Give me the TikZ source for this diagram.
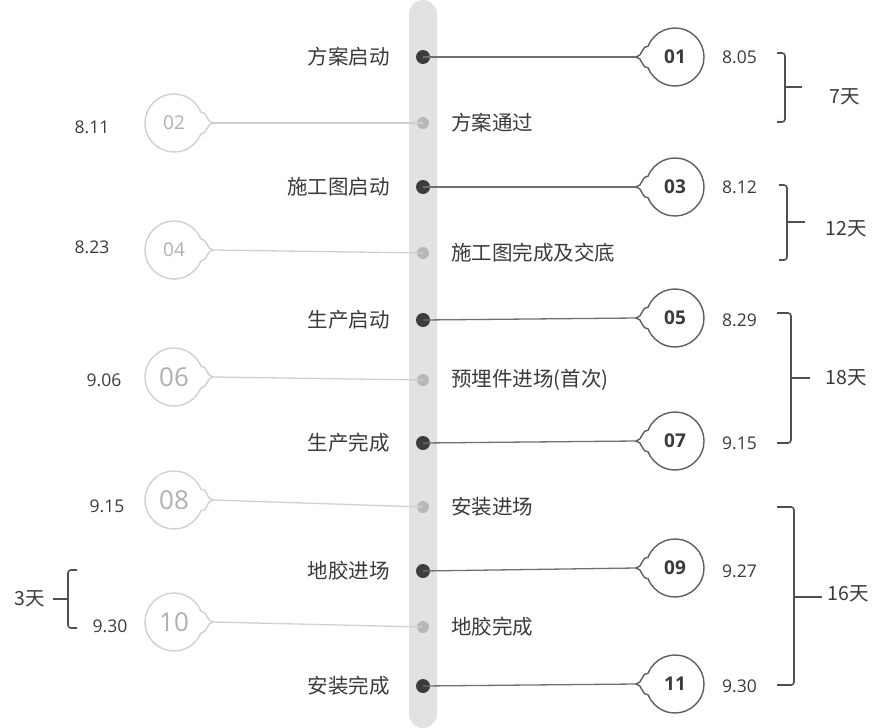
\documentclass[tikz,border=0pt]{standalone}
\usepackage{fontspec}
\setmainfont{Open Sans}
\newfontfamily\cjk{Noto Sans CJK SC}
\definecolor{barc}{HTML}{E2E2E2}
\definecolor{darkdot}{HTML}{3C3C3C}
\definecolor{lightdot}{HTML}{B8B8B8}
\definecolor{darkline}{HTML}{707070}
\definecolor{darkring}{HTML}{5E5E5E}
\definecolor{lightring}{HTML}{D0D0D0}
\definecolor{lightnum}{HTML}{B0B0B0}
\definecolor{txt}{HTML}{3A3A3A}
\definecolor{brk}{HTML}{505050}
\tikzset{
  darkpt/.style={circle,fill=darkdot,inner sep=0pt,minimum size=14pt},
  lightpt/.style={circle,fill=lightdot,inner sep=0pt,minimum size=12pt},
  ring/.style={circle,inner sep=0pt,minimum size=58pt},
  darknum/.style={font=\fontsize{19}{19}\selectfont\bfseries,text=txt},
  lightnumS/.style={font=\fontsize{19}{19}\selectfont,text=lightnum},
  lightnumL/.style={font=\fontsize{26}{26}\selectfont,text=lightnum},
  lbl/.style={font=\cjk\fontsize{20.5}{20.5}\selectfont,text=txt,inner sep=0pt},
  datetxt/.style={font=\fontsize{17.5}{17.5}\selectfont,text=txt,inner sep=0pt},
  daystxt/.style={font=\cjk\fontsize{19.5}{19.5}\selectfont,text=txt,inner sep=0pt},
  dline/.style={darkline,line width=1.3pt},
  lline/.style={lightring,line width=1.3pt},
  dbub/.style={darkring,line width=1.4pt},
  lbub/.style={lightring,line width=1.4pt},
  brace/.style={brk,line width=1.6pt,rounded corners=3pt}
}
\begin{document}
\begin{tikzpicture}[x=1pt,y=-1pt]
\useasboundingbox (0,0) rectangle (889,728);
\fill[barc,rounded corners=14pt] (409,0) rectangle (437,728);

% dark events (right circles)
\foreach \i/\yd/\yc/\num/\lab/\dt in {
  1/57/57/01/方案启动/8.05,
  3/187/187/03/施工图启动/8.12,
  5/320/318/05/生产启动/8.29,
  7/443/441/07/生产完成/9.15,
  9/571/568/09/地胶进场/9.27,
  11/686/684/11/安装完成/9.30}{
  \node[ring] (c\i) at (675,\yc) {};
  \coordinate (t\i) at (636,\yc);
  \draw[dbub] (c\i.center) ++(158:29pt) arc[start angle=158,end angle=-158,radius=29pt]
      to[out=190,in=0] (t\i) to[out=0,in=170] cycle;
  \node[darknum] at (c\i) {\num};
  \node[darkpt] (d\i) at (423,\yd) {};
  \draw[dline] (d\i.center) -- (t\i);
  \node[lbl,anchor=east] (l\i) at (390,\yd) {\lab};
  \node[datetxt,anchor=west] (dt\i) at (722,\yd) {\dt};
}

% light events (left circles)
\foreach \i/\yd/\yc/\num/\st/\lab/\dt/\dy/\dx in {
  2/123/123/02/lightnumS/方案通过/8.11/127/92,
  4/253/250/04/lightnumS/施工图完成及交底/8.23/247/92,
  6/380/377/06/lightnumL/预埋件进场(首次)/9.06/380/104,
  8/507/500/08/lightnumL/安装进场/9.15/506/107,
  10/627/622/10/lightnumL/地胶完成/9.30/626/110}{
  \node[ring] (c\i) at (174,\yc) {};
  \coordinate (t\i) at (213,\yc);
  \draw[lbub] (c\i.center) ++(22:29pt) arc[start angle=22,end angle=338,radius=29pt]
      to[out=-10,in=180] (t\i) to[out=180,in=10] cycle;
  \node[\st] at (c\i) {\num};
  \node[lightpt] (d\i) at (423,\yd) {};
  \draw[lline] (t\i) -- (d\i.center);
  \node[lbl,anchor=west] (l\i) at (451,\yd) {\lab};
  \node[datetxt] (dt\i) at (\dx,\dy) {\dt};
}

% brackets right
\draw[brace] (777,53) -- (785,53) -- (785,122) -- (777,122);
\draw[brace] (785,87) -- (802,87);
\node[daystxt] (b1) at (845,97) {7天};

\draw[brace] (779,185) -- (787,185) -- (787,260) -- (779,260);
\draw[brace] (787,222) -- (805,222);
\node[daystxt] (b2) at (846,229) {12天};

\draw[brace] (777,313) -- (791,313) -- (791,443) -- (777,443);
\draw[brace] (791,378) -- (810,378);
\node[daystxt] (b3) at (846,378) {18天};

\draw[brace] (777,507) -- (794,507) -- (794,685) -- (777,685);
\draw[brace] (794,597) -- (822,597);
\node[daystxt] (b4) at (848,594) {16天};

% bracket left
\draw[brace] (77,570) -- (68,570) -- (68,628) -- (77,628);
\draw[brace] (68,599) -- (53,599);
\node[daystxt] (b5) at (30,599) {3天};
\end{tikzpicture}
\end{document}
